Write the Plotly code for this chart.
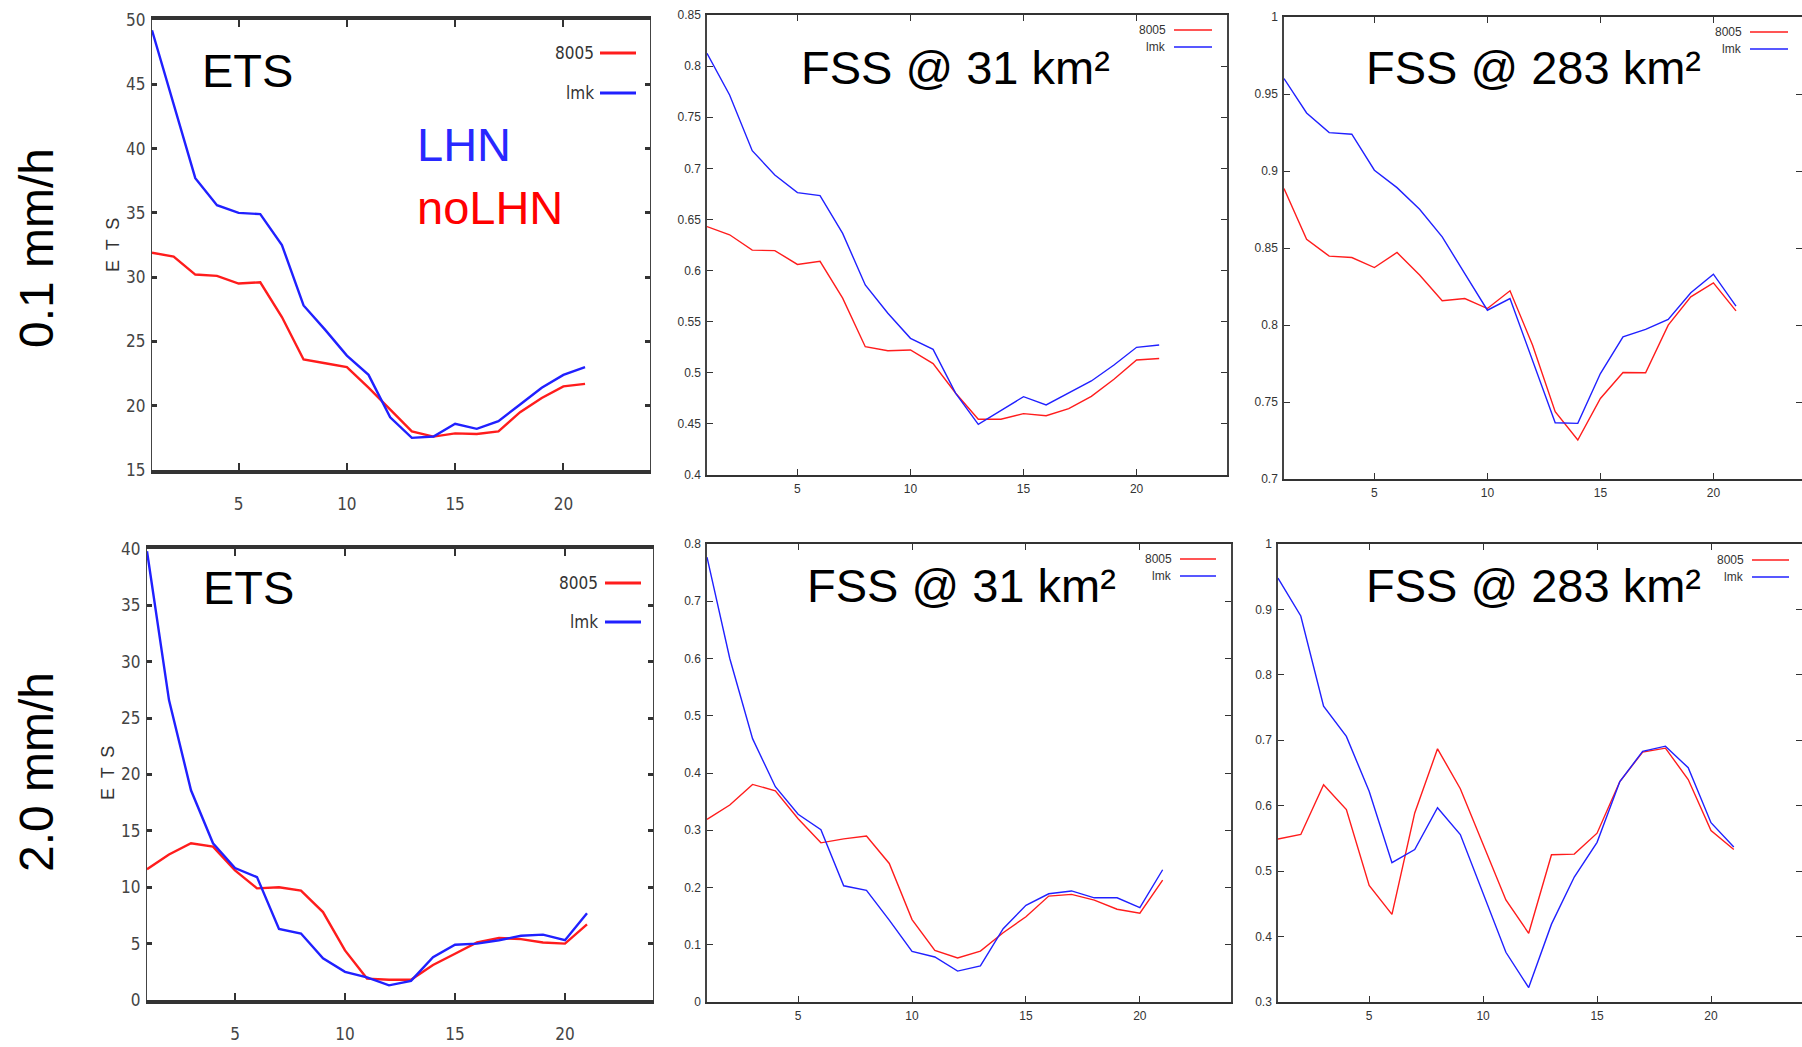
import plotly.graph_objects as go

W, H = 1802, 1047

# ---------------- data ----------------
lead_time = [1, 2, 3, 4, 5, 6, 7, 8, 9, 10, 11, 12, 13, 14, 15, 16, 17, 18, 19, 20, 21]
x_ticks = [5, 10, 15, 20]
series_names = ["8005", "lmk"]

# threshold 0.1 mm/h
ets_01_8005 = [31.9, 31.6, 30.2, 30.1, 29.5, 29.6, 26.9, 23.6, 23.3, 23.0, 21.4,
               19.7, 18.0, 17.6, 17.85, 17.8, 18.0, 19.5, 20.6, 21.5, 21.7]
ets_01_lmk = [49.2, 43.5, 37.7, 35.6, 35.0, 34.9, 32.5, 27.8, 25.9, 23.9, 22.4,
              19.1, 17.5, 17.6, 18.6, 18.2, 18.8, 20.1, 21.4, 22.4, 23.0]
fss31_01_8005 = [0.643, 0.635, 0.620, 0.6195, 0.606, 0.609, 0.573, 0.5255, 0.5216, 0.5223, 0.509,
                 0.480, 0.4545, 0.4545, 0.460, 0.458, 0.465, 0.477, 0.4936, 0.5125, 0.514]
fss31_01_lmk = [0.8125, 0.7717, 0.7173, 0.6935, 0.6762, 0.6733, 0.6364, 0.5859, 0.5582, 0.5337, 0.5229,
                0.4799, 0.4496, 0.463, 0.4766, 0.4685, 0.4805, 0.492, 0.5076, 0.5249, 0.5272]
fss283_01_8005 = [0.8886, 0.8557, 0.8447, 0.8438, 0.8373, 0.8471, 0.8324, 0.8157, 0.8172, 0.8107, 0.8222,
                  0.7869, 0.7437, 0.7253, 0.7523, 0.7692, 0.7690, 0.7999, 0.8183, 0.8274, 0.8092]
fss283_01_lmk = [0.960, 0.9377, 0.9249, 0.9239, 0.9005, 0.8892, 0.8752, 0.8572, 0.8334, 0.8096, 0.8172,
                 0.7772, 0.7365, 0.7361, 0.7685, 0.7923, 0.7971, 0.8036, 0.8209, 0.8330, 0.8122]

# threshold 2.0 mm/h
ets_20_8005 = [11.6, 12.9, 13.9, 13.6, 11.5, 9.9, 10.0, 9.7, 7.8, 4.4, 1.9,
               1.8, 1.8, 3.1, 4.1, 5.1, 5.5, 5.4, 5.1, 5.0, 6.7]
ets_20_lmk = [39.8, 26.6, 18.6, 13.9, 11.7, 10.9, 6.3, 5.9, 3.7, 2.5, 2.0,
              1.3, 1.7, 3.8, 4.9, 5.0, 5.3, 5.7, 5.8, 5.3, 7.7]
fss31_20_8005 = [0.319, 0.344, 0.380, 0.369, 0.320, 0.278, 0.285, 0.290, 0.242, 0.144, 0.090,
                 0.077, 0.089, 0.121, 0.149, 0.185, 0.188, 0.178, 0.162, 0.155, 0.213]
fss31_20_lmk = [0.777, 0.600, 0.460, 0.376, 0.328, 0.301, 0.203, 0.195, 0.143, 0.0885, 0.0786,
                0.054, 0.063, 0.128, 0.169, 0.189, 0.194, 0.182, 0.182, 0.165, 0.231]
fss283_20_8005 = [0.549, 0.556, 0.632, 0.594, 0.478, 0.434, 0.589, 0.687, 0.626, 0.540, 0.456,
                  0.405, 0.525, 0.526, 0.558, 0.637, 0.682, 0.688, 0.640, 0.562, 0.533]
fss283_20_lmk = [0.948, 0.890, 0.752, 0.706, 0.622, 0.513, 0.533, 0.597, 0.556, 0.467, 0.376,
                 0.322, 0.419, 0.491, 0.544, 0.637, 0.683, 0.691, 0.658, 0.574, 0.537]

panel_titles = ["ETS", "FSS @ 31 km²", "FSS @ 283 km²", "ETS", "FSS @ 31 km²", "FSS @ 283 km²"]
row_labels = ["0.1 mm/h", "2.0 mm/h"]

RED = "rgb(255,28,28)"
BLUE = "rgb(32,32,255)"


def fx(px):
    return px / W


def fy(py):
    return 1 - py / H


# panel layout: (x0, x1, y0, y1) in pixels, x range, y range, dtick, kind
panels = [
    dict(box=(152, 650, 20, 470), xr=[1, 24], yr=[15, 50], dt=5, ets=True,
         data=(ets_01_8005, ets_01_lmk), title_c=(247, 70),
         leg=(596, 600, 636, 53, 93), ylab_c=245),
    dict(box=(707, 1227, 15, 475), xr=[1, 24], yr=[0.4, 0.85], dt=0.05, ets=False,
         data=(fss31_01_8005, fss31_01_lmk), title_c=(955, 68),
         leg=(1168, 1174, 1212, 30, 47)),
    dict(box=(1284, 1802, 17, 479), xr=[1, 1 + 518 / 22.6], yr=[0.7, 1.0], dt=0.05, ets=False,
         data=(fss283_01_8005, fss283_01_lmk), title_c=(1533, 68),
         leg=(1744, 1750, 1788, 32, 49)),
    dict(box=(147, 653, 549, 1000), xr=[1, 24], yr=[0, 40], dt=5, ets=True,
         data=(ets_20_8005, ets_20_lmk), title_c=(248, 587),
         leg=(600, 605, 641, 583, 622), ylab_c=773),
    dict(box=(707, 1231, 544, 1002), xr=[1, 24], yr=[0, 0.8], dt=0.1, ets=False,
         data=(fss31_20_8005, fss31_20_lmk), title_c=(962, 585),
         leg=(1174, 1180, 1216, 559, 576)),
    dict(box=(1278, 1802, 544, 1002), xr=[1, 1 + 524 / 22.79], yr=[0.3, 1.0], dt=0.1, ets=False,
         data=(fss283_20_8005, fss283_20_lmk), title_c=(1533, 585),
         leg=(1746, 1752, 1789, 560, 577)),
]

fig = go.Figure()
annotations = []
shapes = []
layout = {}

for i, p in enumerate(panels, start=1):
    x0, x1, y0, y1 = p["box"]
    xa = "x" if i == 1 else f"x{i}"
    ya = "y" if i == 1 else f"y{i}"
    xkey = "xaxis" if i == 1 else f"xaxis{i}"
    ykey = "yaxis" if i == 1 else f"yaxis{i}"
    ets = p["ets"]
    lw = 2.4 if ets else 1.4
    red_series, blue_series = p["data"]
    fig.add_trace(go.Scatter(x=lead_time, y=red_series, mode="lines", name=series_names[0],
                             line=dict(color=RED, width=lw), xaxis=xa, yaxis=ya,
                             showlegend=False))
    fig.add_trace(go.Scatter(x=lead_time, y=blue_series, mode="lines", name=series_names[1],
                             line=dict(color=BLUE, width=lw), xaxis=xa, yaxis=ya,
                             showlegend=False))

    if ets:
        tfont = dict(family="Liberation Sans Narrow, DejaVu Sans Condensed, Arial", size=17, color="#444")
    else:
        tfont = dict(family="Liberation Sans, Arial", size=12, color="#333")

    layout[xkey] = dict(
        domain=[fx(x0), fx(x1)], anchor=ya, range=p["xr"], tickvals=x_ticks,
        ticks="inside", ticklen=7 if ets else 6, tickwidth=1.5 if ets else 1, tickcolor="#333",
        showline=True, mirror="ticks", linecolor="#333", linewidth=4 if ets else 1.5,
        showgrid=False, zeroline=False, tickfont=tfont, automargin=False,
        ticklabelstandoff=16 if ets else 2, fixedrange=True,
    )
    layout[ykey] = dict(
        domain=[fy(y1), fy(y0)], anchor=xa, range=p["yr"], dtick=p["dt"], tick0=0,
        ticks="inside", ticklen=5 if ets else 6, tickwidth=3 if ets else 1, tickcolor="#333",
        showline=True, mirror="ticks", linecolor="#444", linewidth=1.2 if ets else 1.5,
        showgrid=False, zeroline=False, tickfont=tfont, ticklabelstandoff=2,
        automargin=False, fixedrange=True,
    )

    # panel title
    tx, ty = p["title_c"]
    annotations.append(dict(text=panel_titles[i - 1], x=fx(tx), y=fy(ty), xref="paper", yref="paper",
                            showarrow=False, xanchor="center", yanchor="middle",
                            font=dict(family="Liberation Sans, Arial", size=47, color="black")))

    # legend (gnuplot style: label then sample)
    lx_text, ls0, ls1, ly_r, ly_b = p["leg"]
    lfont = (dict(family="Liberation Sans Narrow, DejaVu Sans Condensed, Arial", size=17, color="#333")
             if ets else dict(family="Liberation Sans, Arial", size=12, color="#333"))
    for name, col, ly in ((series_names[0], RED, ly_r), (series_names[1], BLUE, ly_b)):
        annotations.append(dict(text=name, x=fx(lx_text), y=fy(ly), xref="paper", yref="paper",
                                showarrow=False, xanchor="right", yanchor="middle", font=lfont))
        shapes.append(dict(type="line", xref="paper", yref="paper", x0=fx(ls0), x1=fx(ls1),
                           y0=fy(ly), y1=fy(ly), line=dict(color=col, width=3 if ets else 1.6)))

    if ets:
        annotations.append(dict(text="E  T  S", x=fx(x0 - 39), y=fy(p["ylab_c"]), xref="paper",
                                yref="paper", showarrow=False, textangle=-90,
                                xanchor="center", yanchor="middle",
                                font=dict(family="Liberation Sans, Arial", size=18, color="#333")))

# row labels
for label, cy in zip(row_labels, (248, 772)):
    annotations.append(dict(text=label, x=fx(36), y=fy(cy), xref="paper", yref="paper",
                            showarrow=False, textangle=-90, xanchor="center", yanchor="middle",
                            font=dict(family="Liberation Sans, Arial", size=48, color="black")))

# LHN / noLHN explanation
annotations.append(dict(text="LHN", x=fx(415), y=fy(145), xref="paper", yref="paper", showarrow=False,
                        xanchor="left", yanchor="middle",
                        font=dict(family="Liberation Sans, Arial", size=47, color="rgb(40,40,255)")))
annotations.append(dict(text="noLHN", x=fx(415), y=fy(208), xref="paper", yref="paper", showarrow=False,
                        xanchor="left", yanchor="middle",
                        font=dict(family="Liberation Sans, Arial", size=47, color="rgb(255,0,0)")))

fig.update_layout(
    width=W, height=H, margin=dict(l=0, r=0, t=0, b=0, autoexpand=False),
    paper_bgcolor="white", plot_bgcolor="white", showlegend=False,
    annotations=annotations, shapes=shapes, **layout,
)

fig.write_html("out.html", config={"displayModeBar": False})
